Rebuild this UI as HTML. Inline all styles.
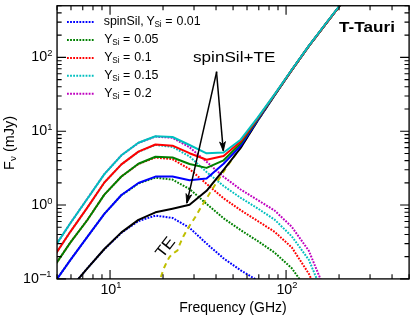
<!DOCTYPE html><html><head><meta charset="utf-8"><title>T-Tauri</title><style>html,body{margin:0;padding:0;background:#fff}svg{display:block}text{font-family:"Liberation Sans",sans-serif;fill:#000}</style></head><body>
<svg style="will-change:transform" width="415" height="321" viewBox="0 0 415 321">
<rect width="415" height="321" fill="#fff"/>
<defs><clipPath id="ax"><rect x="57.05" y="5.75" width="352.05" height="273.15"/></clipPath></defs>
<g clip-path="url(#ax)" fill="none" stroke-linejoin="round">
<polyline points="53.26,310.00 70.29,288.50 87.33,268.30 104.36,249.20 121.40,232.90 138.43,221.10 155.46,215.60 172.50,217.90 189.53,227.80 206.57,243.60 223.60,258.40 240.64,270.30 257.67,280.50 274.71,292.00" stroke="#0000ff" stroke-width="2" stroke-dasharray="1.8 1.3"/>
<polyline points="53.26,284.30 70.29,260.10 87.33,236.90 104.36,213.80 121.40,195.20 138.43,183.50 155.46,177.70 172.50,179.60 189.53,189.00 206.57,203.90 223.60,218.30 240.64,230.10 257.67,241.00 274.71,252.70 291.74,268.20 308.78,292.00 325.81,330.00" stroke="#008000" stroke-width="2" stroke-dasharray="1.8 1.3"/>
<polyline points="53.26,267.80 70.29,242.60 87.33,220.00 104.36,194.60 121.40,176.50 138.43,164.00 155.46,157.50 172.50,159.20 189.53,169.10 206.57,183.80 223.60,198.30 240.64,210.20 257.67,221.00 274.71,231.90 291.74,247.40 308.78,273.60 325.81,310.00" stroke="#ff0000" stroke-width="2" stroke-dasharray="1.8 1.3"/>
<polyline points="53.26,257.60 70.29,231.80 87.33,207.70 104.36,182.50 121.40,164.40 138.43,151.80 155.46,144.90 172.50,146.90 189.53,156.40 206.57,172.00 223.60,186.00 240.64,197.80 257.67,208.40 274.71,219.70 291.74,236.30 308.78,259.70 325.81,300.60" stroke="#00bfbf" stroke-width="2" stroke-dasharray="1.8 1.3"/>
<polyline points="53.26,249.00 70.29,223.30 87.33,198.70 104.36,174.10 121.40,155.30 138.43,142.90 155.46,136.60 172.50,137.80 189.53,147.20 206.57,161.80 223.60,176.80 240.64,189.50 257.67,200.00 274.71,210.60 291.74,226.80 308.78,250.70 325.81,292.00" stroke="#bf00bf" stroke-width="2" stroke-dasharray="1.8 1.3"/>
<polyline points="157,290 160.5,278 164,268 167,261.5 169.2,257.5 171.7,254.3 175,252.2 177.5,250.5 179.3,245.4 183.3,236.5 188.4,227.5 195,217.5 201.4,206.5 205,200.8 215,185 225.4,168.9 240.56,147.5 257.59,120.8 274.63,95.2 291.66,70.4 308.69,46.4 325.72,24 342.76,2" stroke="#bfbf00" stroke-width="2" stroke-dasharray="5.2 4.2" stroke-dashoffset="5.2"/>
<polyline points="53.26,310.00 70.29,288.50 87.33,268.30 104.36,249.00 121.40,232.40 138.43,219.90 155.46,212.30 172.50,208.70 189.53,204.80 206.57,190.80 223.60,169.80 240.64,148.00 257.67,120.80 274.71,95.20 291.74,70.10 308.78,46.20 325.81,23.80 342.85,1.80" stroke="#000" stroke-width="2"/>
<polyline points="53.26,284.30 70.29,260.10 87.33,236.90 104.36,213.80 121.40,195.00 138.43,183.00 155.46,176.60 172.50,176.60 189.53,180.20 206.57,178.40 223.60,163.80 240.64,145.80 257.67,120.20 274.71,95.00 291.74,70.10 308.78,46.20 325.81,23.80 342.85,1.80" stroke="#0000ff" stroke-width="2"/>
<polyline points="53.26,267.80 70.29,242.60 87.33,220.00 104.36,194.60 121.40,176.50 138.43,163.70 155.46,156.80 172.50,157.50 189.53,164.00 206.57,167.90 223.60,160.30 240.64,143.40 257.67,119.20 274.71,94.70 291.74,70.10 308.78,46.20 325.81,23.80 342.85,1.80" stroke="#008000" stroke-width="2"/>
<polyline points="53.26,257.60 70.29,231.80 87.33,207.70 104.36,182.50 121.40,164.40 138.43,151.60 155.46,144.50 172.50,145.70 189.53,153.20 206.57,159.70 223.60,156.10 240.64,141.60 257.67,118.40 274.71,94.40 291.74,70.10 308.78,46.20 325.81,23.80 342.85,1.80" stroke="#ff0000" stroke-width="2"/>
<polyline points="53.26,249.00 70.29,223.30 87.33,198.70 104.36,174.10 121.40,155.30 138.43,142.80 155.46,136.30 172.50,137.00 189.53,145.00 206.57,153.30 223.60,152.50 240.64,139.70 257.67,117.60 274.71,94.10 291.74,69.80 308.78,45.90 325.81,23.50 342.85,1.50" stroke="#00bfbf" stroke-width="2"/>
</g>
<path d="M216.7,71.7L186.91,202.81" fill="none" stroke="#000" stroke-width="1.5"/><path d="M186.80,203.30L186.03,193.59L188.28,196.77L191.69,194.87Z" fill="#000" stroke="#000" stroke-width="0.9" stroke-linejoin="miter"/>
<path d="M216.5,71.7L223.26,150.60" fill="none" stroke="#000" stroke-width="1.5"/><path d="M223.30,151.10L219.62,142.08L222.73,144.43L225.40,141.59Z" fill="#000" stroke="#000" stroke-width="0.9" stroke-linejoin="miter"/>
<rect x="57.05" y="5.75" width="352.05" height="273.15" fill="none" stroke="#000" stroke-width="1.35"/>
<path d="M57.05,278.9v-4.6M57.05,5.75v4.6M70.99,278.9v-4.6M70.99,5.75v4.6M82.77,278.9v-4.6M82.77,5.75v4.6M92.98,278.9v-4.6M92.98,5.75v4.6M101.98,278.9v-4.6M101.98,5.75v4.6M110.04,278.9v-9M110.04,5.75v9M163.03,278.9v-4.6M163.03,5.75v4.6M194.02,278.9v-4.6M194.02,5.75v4.6M216.02,278.9v-4.6M216.02,5.75v4.6M233.07,278.9v-4.6M233.07,5.75v4.6M247.01,278.9v-4.6M247.01,5.75v4.6M258.80,278.9v-4.6M258.80,5.75v4.6M269.01,278.9v-4.6M269.01,5.75v4.6M278.01,278.9v-4.6M278.01,5.75v4.6M286.06,278.9v-9M286.06,5.75v9M339.05,278.9v-4.6M339.05,5.75v4.6M370.05,278.9v-4.6M370.05,5.75v4.6M392.04,278.9v-4.6M392.04,5.75v4.6M409.10,278.9v-4.6M409.10,5.75v4.6M57.05,278.90h9M409.1,278.90h-9M57.05,256.67h4.6M409.1,256.67h-4.6M57.05,243.67h4.6M409.1,243.67h-4.6M57.05,234.44h4.6M409.1,234.44h-4.6M57.05,227.28h4.6M409.1,227.28h-4.6M57.05,221.44h4.6M409.1,221.44h-4.6M57.05,216.49h4.6M409.1,216.49h-4.6M57.05,212.21h4.6M409.1,212.21h-4.6M57.05,208.43h4.6M409.1,208.43h-4.6M57.05,205.06h9M409.1,205.06h-9M57.05,182.83h4.6M409.1,182.83h-4.6M57.05,169.82h4.6M409.1,169.82h-4.6M57.05,160.60h4.6M409.1,160.60h-4.6M57.05,153.44h4.6M409.1,153.44h-4.6M57.05,147.59h4.6M409.1,147.59h-4.6M57.05,142.65h4.6M409.1,142.65h-4.6M57.05,138.37h4.6M409.1,138.37h-4.6M57.05,134.59h4.6M409.1,134.59h-4.6M57.05,131.21h9M409.1,131.21h-9M57.05,108.98h4.6M409.1,108.98h-4.6M57.05,95.98h4.6M409.1,95.98h-4.6M57.05,86.75h4.6M409.1,86.75h-4.6M57.05,79.59h4.6M409.1,79.59h-4.6M57.05,73.75h4.6M409.1,73.75h-4.6M57.05,68.80h4.6M409.1,68.80h-4.6M57.05,64.52h4.6M409.1,64.52h-4.6M57.05,60.74h4.6M409.1,60.74h-4.6M57.05,57.37h9M409.1,57.37h-9M57.05,35.14h4.6M409.1,35.14h-4.6M57.05,22.13h4.6M409.1,22.13h-4.6M57.05,12.91h4.6M409.1,12.91h-4.6M57.05,5.75h4.6M409.1,5.75h-4.6" stroke="#000" stroke-width="1.1" fill="none"/>
<text x="52.3" y="61.47" font-size="14.3" text-anchor="end">10<tspan font-size="9.3" dy="-5.6">2</tspan></text>
<text x="52.3" y="135.31" font-size="14.3" text-anchor="end">10<tspan font-size="9.3" dy="-5.6">1</tspan></text>
<text x="52.3" y="209.16" font-size="14.3" text-anchor="end">10<tspan font-size="9.3" dy="-5.6">0</tspan></text>
<text x="39.0" y="283.0" font-size="14.3" text-anchor="end">10</text>
<path d="M40.0,274.7H46.2" stroke="#000" stroke-width="0.95" fill="none"/>
<text x="51.5" y="277.40" font-size="9.3" text-anchor="end">1</text>
<text x="110.94" y="293.6" font-size="14.3" text-anchor="middle">10<tspan font-size="9.3" dy="-5.6">1</tspan></text>
<text x="286.96" y="293.6" font-size="14.3" text-anchor="middle">10<tspan font-size="9.3" dy="-5.6">2</tspan></text>
<text x="233" y="311.6" font-size="14" text-anchor="middle">Frequency (GHz)</text>
<text transform="translate(13.7,142.9) rotate(-90)" font-size="14.5" text-anchor="middle">F<tspan font-size="9.8" dy="2.5">ν</tspan><tspan dy="-2.5"> (mJy)</tspan></text>
<line x1="67" y1="22.00" x2="94.3" y2="22.00" stroke="#0000ff" stroke-width="2" stroke-dasharray="1.8 1.3"/>
<text x="103.7" y="24.90" font-size="12.4">spinSil,</text>
<text y="24.90" font-size="12.4"><tspan x="146.5">Y</tspan><tspan x="154.4" dy="1.9" font-size="8.2">Si</tspan><tspan x="165.2" dy="-1.9">=</tspan><tspan x="176.5">0.01</tspan></text>
<line x1="67" y1="39.95" x2="94.3" y2="39.95" stroke="#008000" stroke-width="2" stroke-dasharray="1.8 1.3"/>
<text y="42.85" font-size="12.4"><tspan x="104.3">Y</tspan><tspan x="112.2" dy="1.9" font-size="8.2">Si</tspan><tspan x="123.0" dy="-1.9">=</tspan><tspan x="134.3">0.05</tspan></text>
<line x1="67" y1="57.90" x2="94.3" y2="57.90" stroke="#ff0000" stroke-width="2" stroke-dasharray="1.8 1.3"/>
<text y="60.80" font-size="12.4"><tspan x="104.3">Y</tspan><tspan x="112.2" dy="1.9" font-size="8.2">Si</tspan><tspan x="123.0" dy="-1.9">=</tspan><tspan x="134.3">0.1</tspan></text>
<line x1="67" y1="75.85" x2="94.3" y2="75.85" stroke="#00bfbf" stroke-width="2" stroke-dasharray="1.8 1.3"/>
<text y="78.75" font-size="12.4"><tspan x="104.3">Y</tspan><tspan x="112.2" dy="1.9" font-size="8.2">Si</tspan><tspan x="123.0" dy="-1.9">=</tspan><tspan x="134.3">0.15</tspan></text>
<line x1="67" y1="93.80" x2="94.3" y2="93.80" stroke="#bf00bf" stroke-width="2" stroke-dasharray="1.8 1.3"/>
<text y="96.70" font-size="12.4"><tspan x="104.3">Y</tspan><tspan x="112.2" dy="1.9" font-size="8.2">Si</tspan><tspan x="123.0" dy="-1.9">=</tspan><tspan x="134.3">0.2</tspan></text>
<text x="193" y="61.8" font-size="15.4" textLength="82.4" lengthAdjust="spacingAndGlyphs">spinSil+TE</text>
<text x="339.1" y="31.6" font-size="15" font-weight="bold" textLength="55.8" lengthAdjust="spacingAndGlyphs">T-Tauri</text>
<text transform="translate(165.0,246.9) rotate(-52)" font-size="16" text-anchor="middle" dominant-baseline="central" textLength="21.5" lengthAdjust="spacingAndGlyphs">TE</text>
</svg></body></html>
